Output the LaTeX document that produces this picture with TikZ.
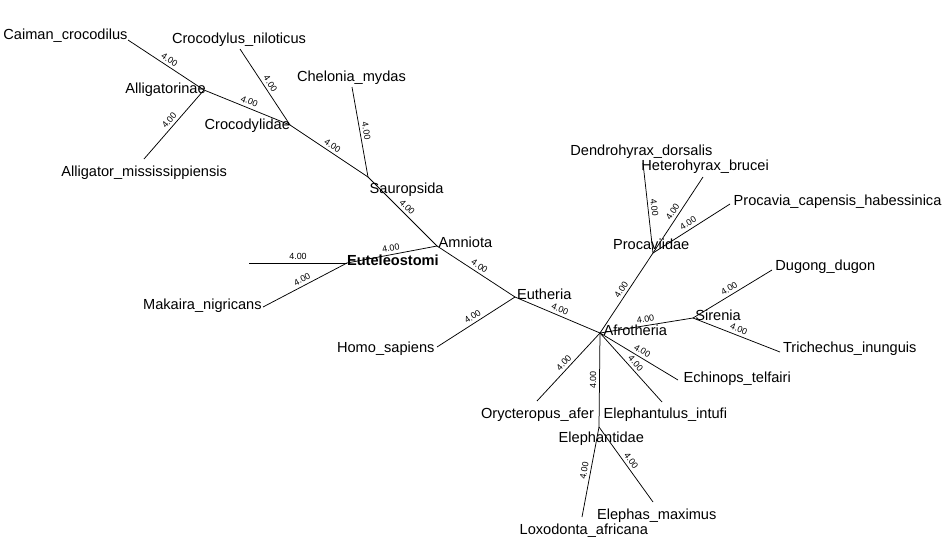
\documentclass[tikz,border=0pt]{standalone}
\usepackage{fontspec}
\setmainfont{Liberation Sans}

\begin{document}
\begin{tikzpicture}[x=1pt, y=-1pt, line width=0.75pt,
		taxon/.style={anchor=base west, inner sep=0pt, font=\fontsize{14.6}{16}\selectfont},
		blen/.style={midway, sloped, above=2.4pt, inner sep=0.5pt, font=\fontsize{8.9}{10}\selectfont}]
		\useasboundingbox (0,0) rectangle (952,554);
		% tree vertices
		\coordinate (caiman) at (128,40);
		\coordinate (alligatorinae) at (204,90);
		\coordinate (alligator) at (144,159);
		\coordinate (crocodylidae) at (290,125);
		\coordinate (crocodylus) at (240,49);
		\coordinate (chelonia) at (352,87);
		\coordinate (sauropsida) at (368,177);
		\coordinate (amniota) at (437,246);
		\coordinate (euteleostomi) at (347,263);
		\coordinate (fish) at (249,263);
		\coordinate (makaira) at (263,307);
		\coordinate (eutheria) at (515,297);
		\coordinate (homo) at (437,347);
		\coordinate (afrotheria) at (600,333);
		\coordinate (procaviidae) at (653,253);
		\coordinate (dendrohyrax) at (643,163);
		\coordinate (heterohyrax) at (703,177);
		\coordinate (procavia) at (730,204);
		\coordinate (sirenia) at (693,318);
		\coordinate (dugong) at (772,270);
		\coordinate (trichechus) at (780,352);
		\coordinate (echinops) at (678,380);
		\coordinate (elephantulus) at (662,402);
		\coordinate (orycteropus) at (537,401);
		\coordinate (elephantidae) at (599,427);
		\coordinate (elephas) at (653,502);
		\coordinate (loxodonta) at (582,517);
		% branches
		\foreach \a/\b in {caiman/alligatorinae, alligatorinae/alligator, alligatorinae/crocodylidae,
				crocodylus/crocodylidae, crocodylidae/sauropsida, chelonia/sauropsida, sauropsida/amniota,
				euteleostomi/amniota, fish/euteleostomi, makaira/euteleostomi, amniota/eutheria,
				homo/eutheria, eutheria/afrotheria, afrotheria/procaviidae, procaviidae/dendrohyrax,
				procaviidae/heterohyrax, procaviidae/procavia, afrotheria/sirenia, sirenia/dugong,
				sirenia/trichechus, afrotheria/echinops, afrotheria/elephantulus, orycteropus/afrotheria,
				elephantidae/afrotheria, elephantidae/elephas, loxodonta/elephantidae}
			\draw (\a) -- (\b) node[blen] {4.00};
		% names
		\node[taxon] (tcaiman) at (3,39.8) {Caiman\_crocodilus};
		\node[taxon] (tcrocodylus) at (171.7,43.2) {Crocodylus\_niloticus};
		\node[taxon] (tchelonia) at (296.7,81) {Chelonia\_mydas};
		\node[taxon] (talligatorinae) at (125,93) {Alligatorinae};
		\node[taxon] (tcrocodylidae) at (204.3,129) {Crocodylidae};
		\node[taxon] (talligator) at (61,176.5) {Alligator\_mississippiensis};
		\node[taxon] (tsauropsida) at (369.3,193) {Sauropsida};
		\node[taxon] (tamniota) at (438.3,247) {Amniota};
		\node[taxon, font=\fontsize{14.6}{16}\selectfont\bfseries] (teuteleostomi) at (346.7,265.5) {Euteleostomi};
		\node[taxon, anchor=base east] (tmakaira) at (262,309.5) {Makaira\_nigricans};
		\node[taxon] (teutheria) at (516.7,299) {Eutheria};
		\node[taxon] (thomo) at (336.7,352) {Homo\_sapiens};
		\node[taxon] (tafrotheria) at (603.3,335) {Afrotheria};
		\node[taxon] (tdendrohyrax) at (570,155.5) {Dendrohyrax\_dorsalis};
		\node[taxon] (theterohyrax) at (641,170.5) {Heterohyrax\_brucei};
		\node[taxon] (tprocavia) at (733.3,205.5) {Procavia\_capensis\_habessinica};
		\node[taxon] (tprocaviidae) at (612.7,249) {Procaviidae};
		\node[taxon] (tdugong) at (775,270.5) {Dugong\_dugon};
		\node[taxon] (tsirenia) at (695,320.5) {Sirenia};
		\node[taxon] (ttrichechus) at (782.7,352) {Trichechus\_inunguis};
		\node[taxon] (techinops) at (683.3,382) {Echinops\_telfairi};
		\node[taxon] (torycteropus) at (480.7,418) {Orycteropus\_afer};
		\node[taxon] (telephantulus) at (603.3,418) {Elephantulus\_intufi};
		\node[taxon] (telephantidae) at (558.3,442) {Elephantidae};
		\node[taxon] (telephas) at (596.7,519) {Elephas\_maximus};
		\node[taxon] (tloxodonta) at (519.3,534.5) {Loxodonta\_africana};
\end{tikzpicture}
\end{document}
